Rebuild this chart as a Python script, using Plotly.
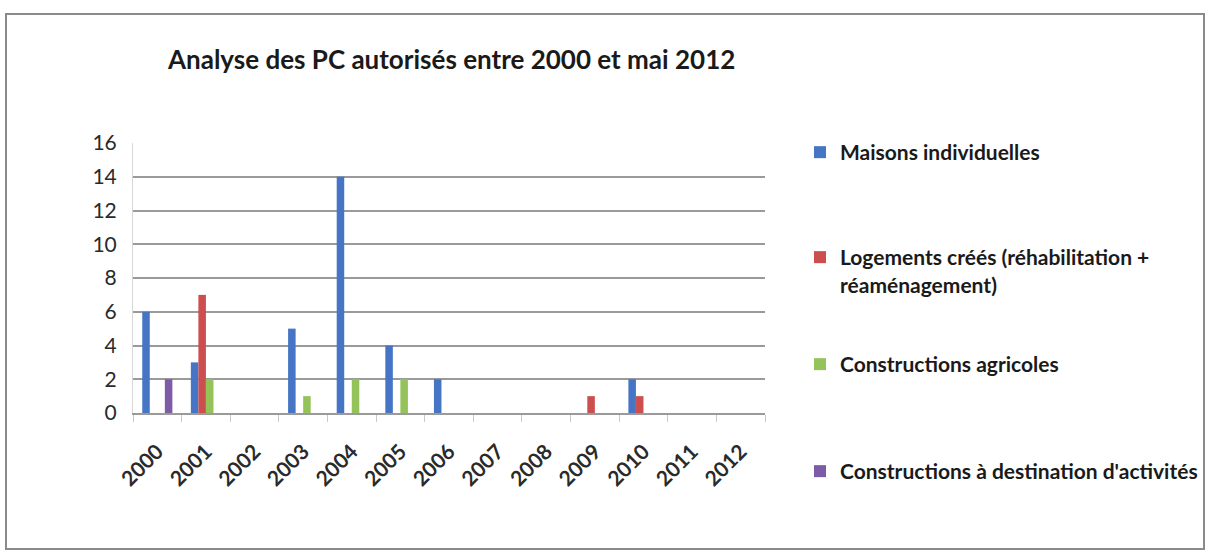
import plotly.graph_objects as go

years = ["2000", "2001", "2002", "2003", "2004", "2005", "2006",
         "2007", "2008", "2009", "2010", "2011", "2012"]
maisons = [6, 3, 0, 5, 14, 4, 2, 0, 0, 0, 2, 0, 0]
logements = [0, 7, 0, 0, 0, 0, 0, 0, 0, 1, 1, 0, 0]
agricoles = [0, 2, 0, 1, 2, 2, 0, 0, 0, 0, 0, 0, 0]
activites = [2, 0, 0, 0, 0, 0, 0, 0, 0, 0, 0, 0, 0]

names = ["<b>Maisons individuelles</b>",
         "<b>Logements créés (réhabilitation +<br>réaménagement)</b>",
         "<b>Constructions agricoles</b>",
         "<b>Constructions à destination d'activités</b>"]
colors = ["#4675C6", "#CC4E4E", "#94C35A", "#7E5BA6"]
series = [maisons, logements, agricoles, activites]
legend_ids = ["legend", "legend2", "legend3", "legend4"]
legend_tops = [132, 237, 344, 451]

W, H = 1208, 551
L, R, T, B = 133, 765, 143, 413

fig = go.Figure()
for n, c, s, lg in zip(names, colors, series, legend_ids):
    fig.add_trace(go.Bar(x=years, y=s, name=n, marker_color=c,
                         marker_line_width=0, legend=lg, showlegend=True))

def px_x(p):
    return (p - L) / (R - L)

def px_y(p):
    return (B - p) / (B - T)

legend_style = dict(xref="container", yref="container", x=800 / W,
                    xanchor="left", yanchor="top", valign="top",
                    font=dict(size=21, color="#1a1a1a", family="Lato"),
                    itemwidth=30, bgcolor="rgba(0,0,0,0)")

layout_legends = {lg: dict(legend_style, y=1 - top / H)
                  for lg, top in zip(legend_ids, legend_tops)}

fig.update_layout(
    width=W, height=H,
    showlegend=True,
    margin=dict(l=L, r=W - R, t=T, b=H - B),
    paper_bgcolor="white", plot_bgcolor="white",
    barmode="group", bargap=0.38, bargroupgap=0,
    font=dict(family="Lato", color="#333333"),
    title=dict(text="<b>Analyse des PC autorisés entre 2000 et mai 2012</b>",
               x=168 / W, xanchor="left", xref="container",
               y=1 - 60 / H, yanchor="middle", yref="container",
               font=dict(size=26, color="#1a1a1a", family="Lato")),
    xaxis=dict(type="category", showgrid=False, showline=True,
               linecolor="#9a9a9a", linewidth=2, ticks="outside",
               tickson="boundaries", ticklen=7, tickcolor="#c8c8c8",
               tickangle=-45, ticklabelstandoff=16, ticklabelshift=0,
               tickfont=dict(size=21, color="#2a2a2a", family="Lato", weight="bold"),
               range=[-0.5, 12.5]),
    yaxis=dict(range=[0, 16], dtick=2, showgrid=True, gridcolor="#9a9a9a",
               gridwidth=2, showline=True, linecolor="#d8d8d8", linewidth=1,
               zeroline=False, ticks="", ticklabelstandoff=11,
               tickfont=dict(size=21, color="#2a2a2a", family="Lato")),
    shapes=[dict(type="rect", xref="paper", yref="paper",
                 x0=px_x(6), x1=px_x(1204), y0=px_y(549), y1=px_y(14),
                 line=dict(color="#8a8a8a", width=2), layer="below")],
    **layout_legends,
)

fig.write_html("out.html")
